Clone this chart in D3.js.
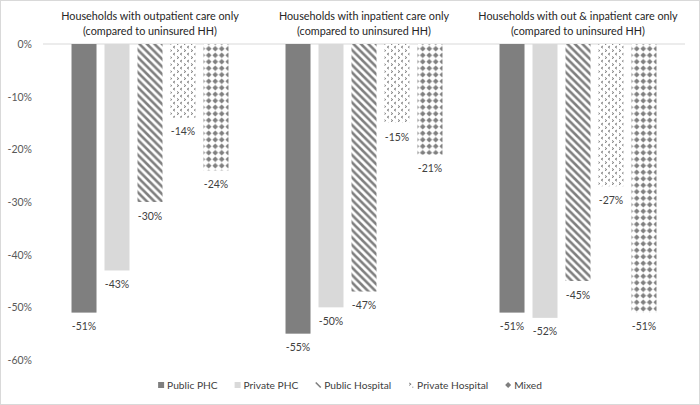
<!DOCTYPE html>
<html>
<head>
<meta charset="utf-8">
<script src="https://cdn.jsdelivr.net/npm/d3@7"></script>
<style>
  html, body { margin: 0; padding: 0; background: #fff; }
  svg { display: block; font-family: Lato, "Open Sans", sans-serif; }
</style>
</head>
<body>
<svg id="chart" width="700" height="405"></svg>
<script>
// ---- data ----
const groups = [
  "Households with outpatient care only|(compared to uninsured HH)",
  "Households with inpatient care only|(compared to uninsured HH)",
  "Households with out & inpatient care only|(compared to uninsured HH)"
];
const seriesNames = ["Public PHC", "Private PHC", "Public Hospital", "Private Hospital", "Mixed"];
const publicPHC      = [-0.51, -0.55, -0.51];
const privatePHC     = [-0.43, -0.50, -0.52];
const publicHospital = [-0.30, -0.47, -0.45];
const privateHospital= [-0.14, -0.15, -0.27];
const mixed          = [-0.24, -0.21, -0.51];
const yTicks = [0, -0.1, -0.2, -0.3, -0.4, -0.5, -0.6];

const seriesValues = [publicPHC, privatePHC, publicHospital, privateHospital, mixed];
const fills = ["#7f7f7f", "#d9d9d9", "url(#pStripe)", "url(#pDivot)", "url(#pDiamond)"];

const locale = d3.formatLocale({decimal: ".", thousands: ",", grouping: [3], currency: ["", ""], minus: "-"});
const pct = locale.format(".0%");

const svg = d3.select("#chart");
const W = 700, H = 405;
const mLeft = 43, mRight = 685, mTop = 44, mBottom = 360;

// defs: patterns
const defs = svg.append("defs");
const gray = "#7f7f7f";
const ps = defs.append("pattern").attr("id", "pStripe").attr("patternUnits", "userSpaceOnUse")
  .attr("width", 7.5).attr("height", 7.5);
ps.append("rect").attr("width", 7.5).attr("height", 7.5).attr("fill", "#fff");
ps.append("path").attr("d", "M-2,-2 L9.5,9.5 M-2,5.5 L2,9.5 M5.5,-2 L9.5,2")
  .attr("stroke", gray).attr("stroke-width", 2.6);

const pdv = defs.append("pattern").attr("id", "pDivot").attr("patternUnits", "userSpaceOnUse")
  .attr("width", 7).attr("height", 7);
pdv.append("rect").attr("width", 7).attr("height", 7).attr("fill", "#fff");
pdv.append("path").attr("d", "M1,0.5 L2.8,1.6 L1,2.7 M6,4 L4.2,5.1 L6,6.2")
  .attr("stroke", gray).attr("stroke-width", 1).attr("fill", "none");

const pdm = defs.append("pattern").attr("id", "pDiamond").attr("patternUnits", "userSpaceOnUse")
  .attr("width", 6.5).attr("height", 6.5);
pdm.append("rect").attr("width", 6.5).attr("height", 6.5).attr("fill", "#fff");
pdm.append("path").attr("d", "M3.25,0.4 L6.1,3.25 L3.25,6.1 L0.4,3.25 Z").attr("fill", gray);

// background + border
svg.append("rect").attr("x", 0.5).attr("y", 0.5).attr("width", W - 1).attr("height", H - 1)
  .attr("fill", "#fff").attr("stroke", "#d9d9d9");

// scales
const y = d3.scaleLinear().domain([-0.6, 0]).range([mBottom, mTop]);
const x0 = d3.scaleBand().domain(d3.range(groups.length)).range([mLeft, mRight]).padding(0);
const x1 = d3.scaleBand().domain(d3.range(seriesNames.length)).range([0, x0.bandwidth()])
  .paddingInner(8 / 33).paddingOuter(0.864);

// y axis
const yAxis = d3.axisLeft(y).tickValues(yTicks).tickFormat(pct).tickSize(0).tickPadding(11);
const ga = svg.append("g").attr("transform", `translate(${mLeft},0)`).call(yAxis);
ga.select(".domain").remove();
ga.selectAll("text").attr("fill", "#595959").attr("font-size", 10.5)
  .attr("font-family", "Lato, 'Open Sans', sans-serif");

// zero line
svg.append("line").attr("x1", mLeft).attr("x2", mRight).attr("y1", y(0)).attr("y2", y(0))
  .attr("stroke", "#d9d9d9").attr("stroke-width", 1);

// bars
const gg = svg.selectAll("g.grp").data(groups).enter().append("g").attr("class", "grp")
  .attr("transform", (d, i) => `translate(${x0(i)},0)`);

gg.each(function(gname, gi) {
  const g = d3.select(this);
  seriesValues.forEach((vals, si) => {
    const v = vals[gi];
    g.append("rect").attr("x", x1(si)).attr("width", x1.bandwidth())
      .attr("y", y(0)).attr("height", y(v) - y(0)).attr("fill", fills[si]);
    g.append("text").attr("x", x1(si) + x1.bandwidth() / 2).attr("y", y(v) + 17.5)
      .attr("text-anchor", "middle").attr("font-size", 10.5).attr("fill", "#404040")
      .text(pct(v));
  });
  const lines = gname.split("|");
  lines.forEach((ln, li) => {
    g.append("text").attr("x", x0.bandwidth() / 2).attr("y", 19.5 + li * 15)
      .attr("text-anchor", "middle").attr("font-size", 10.8).attr("fill", "#262626")
      .text(ln);
  });
});

// legend
const markerDraw = [
  g => g.append("rect").attr("x", 0).attr("y", -3).attr("width", 6).attr("height", 6).attr("fill", "#7f7f7f"),
  g => g.append("rect").attr("x", 0).attr("y", -3).attr("width", 6).attr("height", 6).attr("fill", "#d9d9d9"),
  g => g.append("path").attr("d", "M0.5,-2.5 L5.5,2.5").attr("stroke", gray).attr("stroke-width", 1.6),
  g => g.append("path").attr("d", "M1,-2 L3,-0.8 L1,0.4 M4.2,2.2 L5.2,2.2").attr("stroke", gray).attr("stroke-width", 1).attr("fill", "none"),
  g => g.append("path").attr("d", "M3,-3 L6,0 L3,3 L0,0 Z").attr("fill", gray)
];
const leg = svg.append("g");
let cx = 0;
seriesNames.forEach((name, i) => {
  const it = leg.append("g").attr("transform", `translate(${cx},0)`);
  markerDraw[i](it);
  const t = it.append("text").attr("x", 9).attr("y", 3.7).attr("font-size", 10.2).attr("fill", "#404040").text(name);
  cx += 9 + t.node().getComputedTextLength() + 17;
});
const legW = cx - 17;
leg.attr("transform", `translate(${350 - legW / 2},385)`);
</script>
</body>
</html>
